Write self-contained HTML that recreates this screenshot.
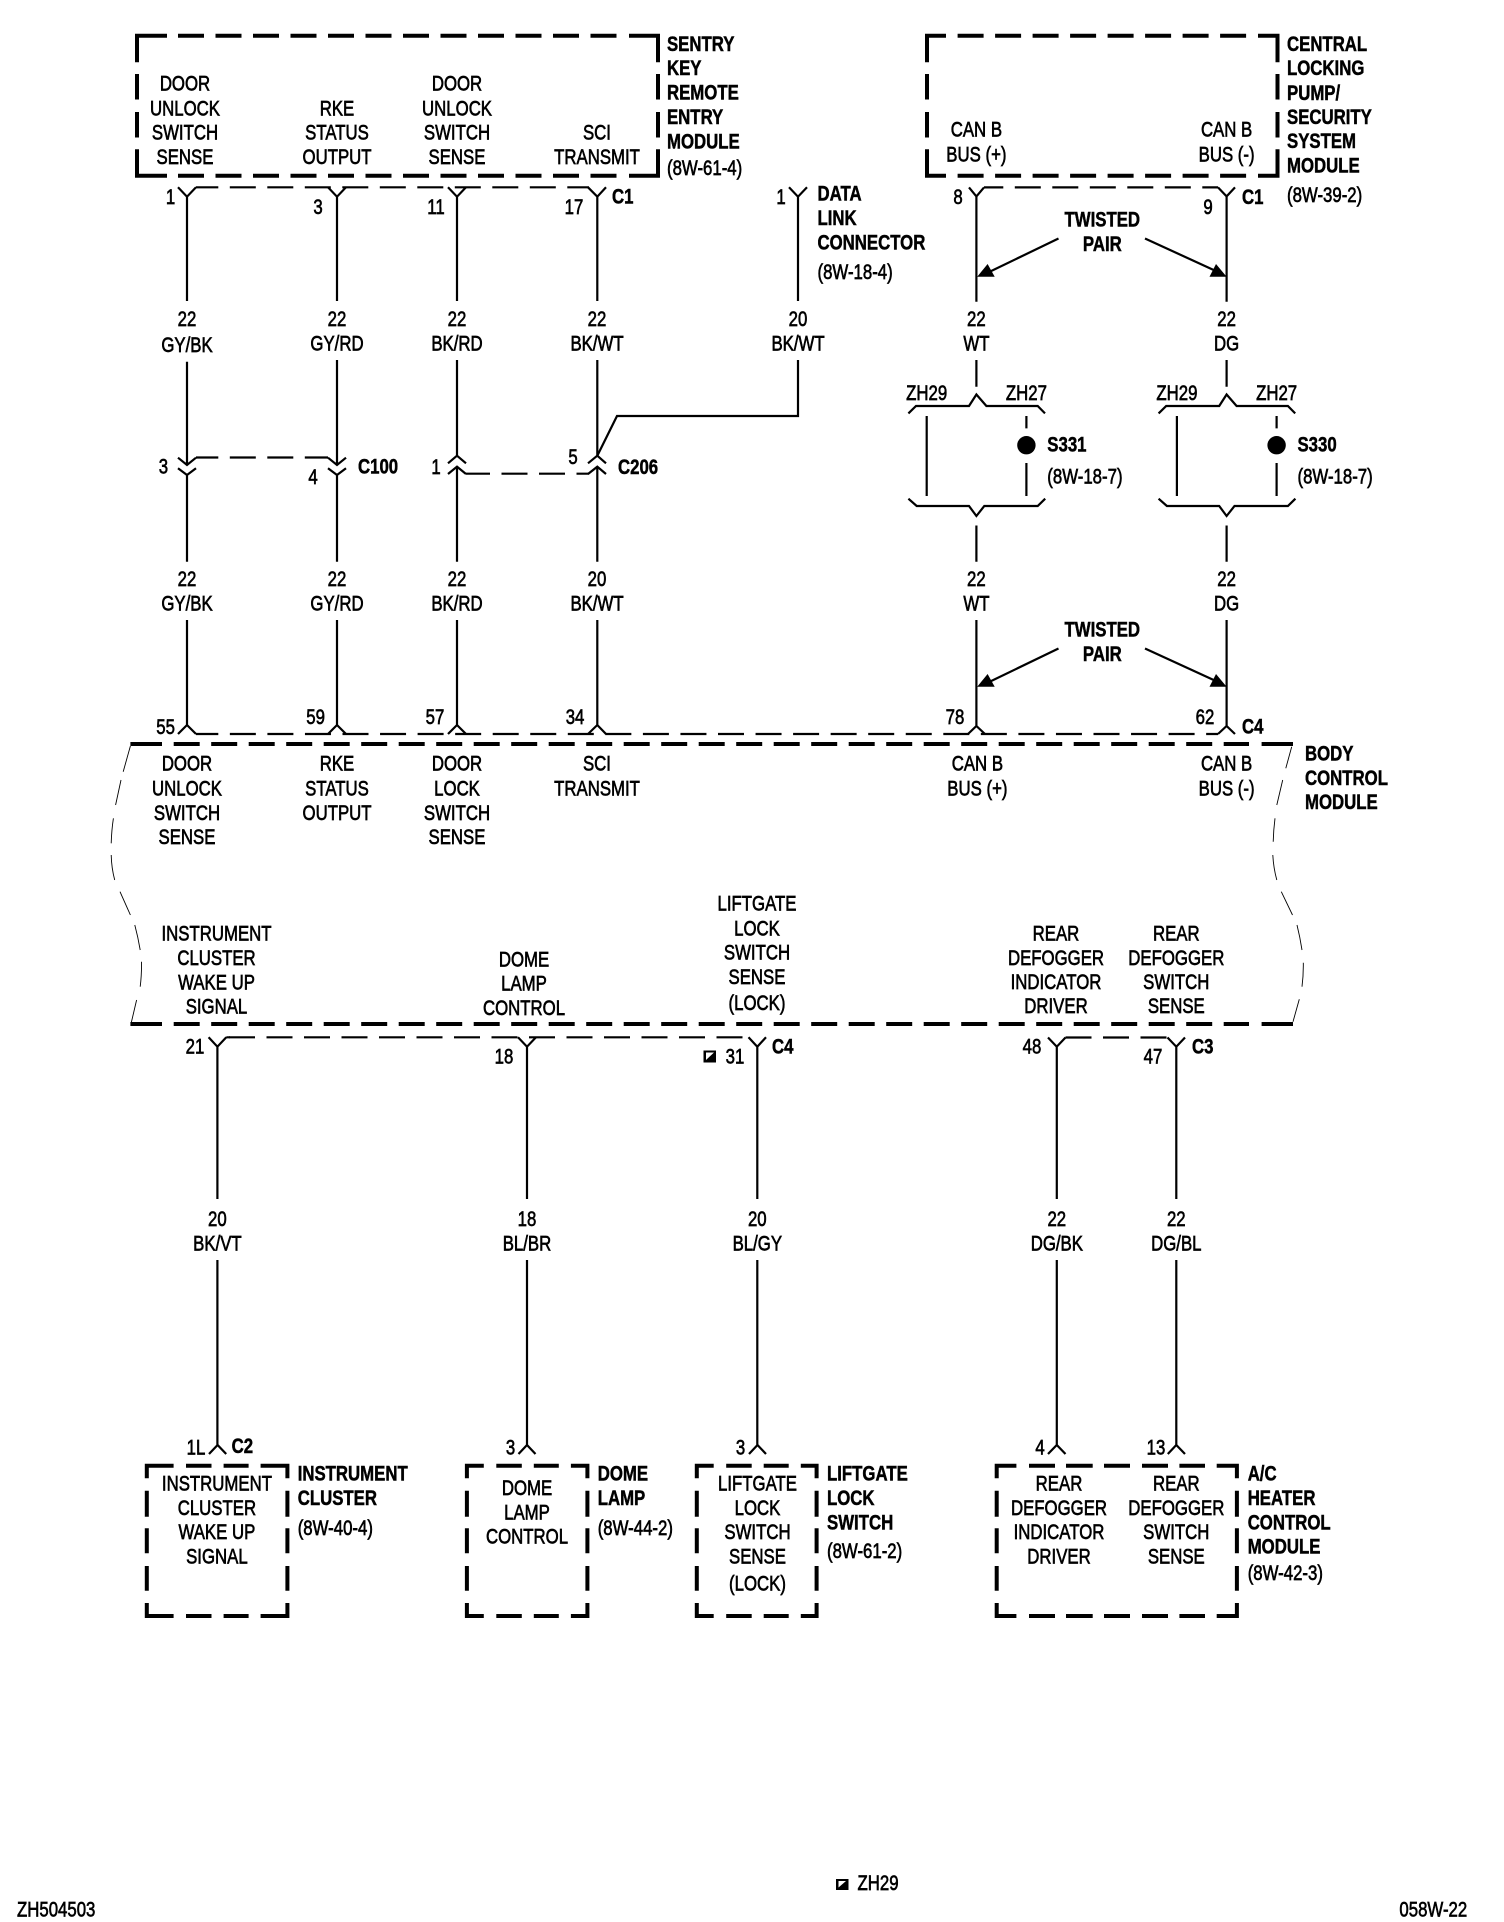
<!DOCTYPE html>
<html><head><meta charset="utf-8"><style>
html,body{margin:0;padding:0;background:#fff}
svg{display:block}
text{font-family:"Liberation Sans",Arial,sans-serif;font-size:21px;fill:#000;stroke:#000;stroke-width:.65px;transform-box:fill-box}
.c{text-anchor:middle;transform-origin:center;transform:scaleX(.8)}
.l{text-anchor:start;transform-origin:left center;transform:scaleX(.8)}
.lb{text-anchor:start;transform-origin:left center;transform:scaleX(.8);font-weight:bold;stroke-width:.5px}
.cb{text-anchor:middle;transform-origin:center;transform:scaleX(.8);font-weight:bold;stroke-width:.5px}
.w{fill:none;stroke:#000;stroke-width:2.2}
.t{fill:none;stroke:#000;stroke-width:.9}
.d{fill:none;stroke:#000;stroke-width:2.2;stroke-dasharray:26 11.5}
.b{fill:none;stroke:#000;stroke-width:4}
.bd{fill:none;stroke:#000;stroke-width:4;stroke-dasharray:26 11.5}
.bv{fill:none;stroke:#000;stroke-width:4;stroke-dasharray:25.5 12.5}
</style></head><body>
<svg width="1504" height="1922" viewBox="0 0 1504 1922" xmlns="http://www.w3.org/2000/svg">
<rect width="1504" height="1922" fill="#fff"/>

<!-- Top left module -->
<path class="b" d="M137 62.3V35.7H167M629 35.7H658V62.3M137 149.3V175.7H167M629 175.7H658V149.3"/>
<path class="bd" d="M178 35.7H617M178 175.7H617"/>
<path class="bv" d="M137 74V138M658 74V138"/>
<!-- Top right module -->
<path class="b" d="M927 62.3V35.7H946M1258 35.7H1277.5V62.3M927 149.3V175.7H946M1258 175.7H1277.5V149.3"/>
<path class="bd" d="M957.6 35.7H1247M957.6 175.7H1247"/>
<path class="bv" d="M927 74V138M1277.5 74V138"/>

<!-- Body control module -->
<path class="b" d="M130.4 744H162M1261.6 744H1293M130.4 1024H162M1261.6 1024H1293"/>
<path class="bd" d="M173.7 744H1249M173.7 1024H1249"/>
<path class="t" d="M130.4 746L123.2 771.7M121 780L115.6 805M113.4 818.3Q111.6 830 111.2 843.3M111.2 855Q111.5 868 114.7 880M120 891.7L130.4 915M134.8 925Q138 937 140.2 950M141.5 961.7Q141.7 975 140.2 986.7M136.6 1000L131.2 1023"/>
<path class="t" d="M1291.7 746.7L1285.8 768.3M1282.7 780L1276.8 805M1275 818.3Q1273.5 830 1273.2 841.7M1272.8 855Q1273.5 868 1276.8 880M1281.3 891.7L1292.5 915M1297 925Q1300 937 1302 950M1303.3 962.7Q1303.5 975 1302 986.7M1299.3 999.3L1293 1021.7"/>

<!-- Row C1 left -->
<path class="d" d="M196 187.3H589" style="stroke-dashoffset:3.7"/>
<path class="w" d="M178 187.3L187 196.7L196 187.3M187 196.7V301M187 361.7V465M178 457.7L187 465L196 457.7M178 468.3L187 475L196 468.3M187 475V561.7M187 620V725M178 734L187 725L196 734"/>
<path class="w" d="M328 187.3L337 196.7L346 187.3M337 196.7V301M337 360V465M328 457.7L337 465L346 457.7M328 468.3L337 475L346 468.3M337 475V561.7M337 620V725M328 734L337 725L346 734"/>
<path class="w" d="M448 187.3L457 196.7L466 187.3M457 196.7V301M457 360V455.7M448 463.3L457 455.7L466 463.3M448 474L457 466.7L466 474M457 466.7V561.7M457 620V725M448 734L457 725L466 734"/>
<path class="w" d="M588 187.3L597.3 196.7L606 187.3M597.3 196.7V301M597.3 360V455.7M588 463.3L597.3 455.7L606 463.3M588 474L597.3 466.7L606 474M597.3 466.7V561.7M597.3 620V725M588 734L597.3 725L606 734"/>
<path class="w" d="M597.3 455.7L617 416H798V360M798 301V196.7M789 187.3L798 196.7L807 187.3"/>
<!-- C100 / C206 dashes -->
<path class="d" style="stroke-dashoffset:3.7" d="M196 457.5H328"/>
<path class="d" d="M466 473.7H589" style="stroke-dashoffset:2"/>

<!-- Row C4 (upper) -->
<path class="d" style="stroke-dashoffset:3.7;stroke-dasharray:26 11.55" d="M196 734H1218"/>

<!-- Twisted pair right -->
<path class="d" style="stroke-dashoffset:6.7" d="M984 187.4H1218"/>
<path class="w" d="M969 187.4L976.4 196.4L984 187.4M976.4 196.4V301.7M976.4 360V386.7"/>
<path class="w" d="M1218 187.4L1226.6 196.4L1235 187.4M1226.6 196.4V301.7M1226.6 360V386.7"/>
<g>
<path class="w" d="M1058.5 238.5L985 274"/>
<path d="M977.2 276.7L994.7 276.7L987.6 264Z" fill="#000"/>
<path class="w" d="M1145 238.5L1218 272"/>
<path d="M1226.6 276.7L1209.5 276.7L1216 264Z" fill="#000"/>
</g>
<g transform="translate(0 410)">
<path class="w" d="M1058.5 238.5L985 274"/>
<path d="M977.2 276.7L994.7 276.7L987.6 264Z" fill="#000"/>
<path class="w" d="M1145 238.5L1218 272"/>
<path d="M1226.6 276.7L1209.5 276.7L1216 264Z" fill="#000"/>
</g>
<path class="w" d="M976.4 525.5V561.7M976.4 620V726M968 734L976.4 726L985 734"/>
<path class="w" d="M1226.6 525.5V561.7M1226.6 620V726M1218 734L1226.6 726L1235 734"/>

<!-- Splices -->
<g>
<path class="w" d="M908.4 413.4L916 406H969L976.4 394.5L986.4 406H1037.7L1045 413.4"/>
<path class="w" d="M926.7 416V496M1026.4 416V428.4M1026.4 463V496"/>
<circle cx="1026.4" cy="445.2" r="9.2" fill="#000"/>
<path class="w" d="M908.4 498.7L916.7 506H969L976.4 516L984.3 506H1037.7L1045.2 498.7"/>
</g>
<g transform="translate(250.2 0)">
<path class="w" d="M908.4 413.4L916 406H969L976.4 394.5L986.4 406H1037.7L1045 413.4"/>
<path class="w" d="M926.7 416V496M1026.4 416V428.4M1026.4 463V496"/>
<circle cx="1026.4" cy="445.2" r="9.2" fill="#000"/>
<path class="w" d="M908.4 498.7L916.7 506H969L976.4 516L984.3 506H1037.7L1045.2 498.7"/>
</g>

<!-- Lower wires -->
<path class="d" style="stroke-dashoffset:-2.7" d="M226.3 1037.3H749"/>
<path class="w" d="M226.3 1037.3H230M208.6 1037.3L217.4 1046.7L226.3 1037.3M217.4 1046.7V1199M217.4 1260V1445M209 1454L217.6 1445L226.2 1454"/>
<path class="w" d="M518 1037.3L527 1046.7L536 1037.3M527 1046.7V1199M527 1260V1445M518.5 1454L527 1445L535.5 1454"/>
<path class="w" d="M748.5 1037.3L757.3 1046.7L766 1037.3M757.3 1046.7V1199M757.3 1260V1445M749 1454L757.5 1445L766 1454"/>
<path class="d" d="M1065.5 1037.5H1167"/>
<path class="w" d="M1048 1037.5L1056.8 1046.7L1065.5 1037.5M1056.8 1046.7V1199M1056.8 1260V1445M1048 1454L1056.8 1445L1065.5 1454"/>
<path class="w" d="M1167.5 1037.5L1176.3 1046.7L1185 1037.5M1176.3 1046.7V1199M1176.3 1260V1445M1167.8 1454L1176.3 1445L1185 1454"/>

<!-- Bottom boxes -->
<path class="b" d="M146.8 1478.3V1465.7H173.6M186 1465.7H211.5M223.6 1465.7H248.6M260.6 1465.7H287.4V1478.3M146.8 1490.7V1516.7M146.8 1528.3V1553.3M146.8 1566V1590.7M287.4 1490.7V1516.7M287.4 1528.3V1553.3M287.4 1566V1590.7M146.8 1603V1616H173.6M186 1616H211.5M223.6 1616H248.6M260.6 1616H287.4V1603"/>
<path class="b" d="M466.9 1478.3V1465.7H483.8M496.3 1465.7H521.8M533.8 1465.7H558.8M570.9 1465.7H587.4V1478.3M466.9 1490.7V1516.7M466.9 1528.3V1553.3M466.9 1566V1590.7M587.4 1490.7V1516.7M587.4 1528.3V1553.3M587.4 1566V1590.7M466.9 1603V1616H483.8M496.3 1616H521.8M533.8 1616H558.8M570.9 1616H587.4V1603"/>
<path class="b" d="M696.8 1478.3V1465.7H713.7M726.2 1465.7H751.7M763.7 1465.7H788.7M800.8 1465.7H816.6V1478.3M696.8 1490.7V1516.7M696.8 1528.3V1553.3M696.8 1566V1590.7M816.6 1490.7V1516.7M816.6 1528.3V1553.3M816.6 1566V1590.7M696.8 1603V1616H713.7M726.2 1616H751.7M763.7 1616H788.7M800.8 1616H816.6V1603"/>
<path class="b" d="M996.7 1478.3V1465.7H1016.4M1029 1465.7H1055M1066 1465.7H1092.7M1104 1465.7H1130M1142 1465.7H1168M1179.4 1465.7H1205M1216.7 1465.7H1236.9V1478.3M996.7 1490.7V1516.7M996.7 1528.3V1553.3M996.7 1566V1590.7M1236.9 1490.7V1516.7M1236.9 1528.3V1553.3M1236.9 1566V1590.7M996.7 1603V1616H1016.4M1029 1616H1055M1066 1616H1092.7M1104 1616H1130M1142 1616H1168M1179.4 1616H1205M1216.7 1616H1236.9V1603"/>

<!-- Module text -->
<text class="c" x="185" y="90.7">DOOR</text><text class="c" x="185" y="115.3">UNLOCK</text><text class="c" x="185" y="139.3">SWITCH</text><text class="c" x="185" y="164">SENSE</text>
<text class="c" x="337" y="115.3">RKE</text><text class="c" x="337" y="139.3">STATUS</text><text class="c" x="337" y="164">OUTPUT</text>
<text class="c" x="457" y="90.7">DOOR</text><text class="c" x="457" y="115.3">UNLOCK</text><text class="c" x="457" y="139.3">SWITCH</text><text class="c" x="457" y="164">SENSE</text>
<text class="c" x="597" y="139.3">SCI</text><text class="c" x="597" y="164">TRANSMIT</text>
<text class="lb" x="667" y="51">SENTRY</text><text class="lb" x="667" y="75">KEY</text><text class="lb" x="667" y="99.3">REMOTE</text><text class="lb" x="667" y="124">ENTRY</text><text class="lb" x="667" y="148.3">MODULE</text><text class="l" x="667" y="175">(8W-61-4)</text>

<text class="c" x="976.4" y="136.5">CAN B</text><text class="c" x="976.4" y="161.4">BUS (+)</text>
<text class="c" x="1226.6" y="136.5">CAN B</text><text class="c" x="1226.6" y="161.4">BUS (-)</text>
<text class="lb" x="1287" y="51">CENTRAL</text><text class="lb" x="1287" y="75.2">LOCKING</text><text class="lb" x="1287" y="100">PUMP/</text><text class="lb" x="1287" y="124.2">SECURITY</text><text class="lb" x="1287" y="148">SYSTEM</text><text class="lb" x="1287" y="172.3">MODULE</text><text class="l" x="1287" y="202">(8W-39-2)</text>

<!-- Pins row C1 -->
<text class="c" x="170.5" y="204">1</text><text class="c" x="318" y="214">3</text><text class="c" x="436" y="214">11</text><text class="c" x="574" y="214">17</text><text class="lb" x="612" y="203.3">C1</text>
<text class="c" x="781" y="204">1</text>
<text class="lb" x="817.5" y="200.5">DATA</text><text class="lb" x="817.5" y="225.2">LINK</text><text class="lb" x="817.5" y="249.5">CONNECTOR</text><text class="l" x="817.5" y="279">(8W-18-4)</text>
<text class="c" x="958" y="204">8</text><text class="c" x="1208" y="214">9</text><text class="lb" x="1242" y="204">C1</text>
<text class="cb" x="1102.3" y="226.7">TWISTED</text><text class="cb" x="1102.3" y="251">PAIR</text>
<text class="cb" x="1102.3" y="636.7">TWISTED</text><text class="cb" x="1102.3" y="661">PAIR</text>

<!-- Wire labels upper -->
<text class="c" x="187" y="326">22</text><text class="c" x="187" y="352">GY/BK</text>
<text class="c" x="337" y="326">22</text><text class="c" x="337" y="350.7">GY/RD</text>
<text class="c" x="457" y="326">22</text><text class="c" x="457" y="350.7">BK/RD</text>
<text class="c" x="597" y="326">22</text><text class="c" x="597" y="350.7">BK/WT</text>
<text class="c" x="798" y="326">20</text><text class="c" x="798" y="350.7">BK/WT</text>
<text class="c" x="976.4" y="326">22</text><text class="c" x="976.4" y="350.7">WT</text>
<text class="c" x="1226.6" y="326">22</text><text class="c" x="1226.6" y="350.7">DG</text>

<!-- Connectors C100/C206 -->
<text class="c" x="163.4" y="473.3">3</text><text class="c" x="313" y="484">4</text><text class="lb" x="358" y="473.3">C100</text>
<text class="c" x="436" y="474">1</text><text class="c" x="573" y="464">5</text><text class="lb" x="618" y="474">C206</text>

<!-- Splice labels -->
<text class="c" x="926.7" y="400">ZH29</text><text class="c" x="1026.4" y="400">ZH27</text>
<text class="c" x="1176.9" y="400">ZH29</text><text class="c" x="1276.6" y="400">ZH27</text>
<text class="lb" x="1047.3" y="451.6">S331</text><text class="l" x="1047.3" y="483.7">(8W-18-7)</text>
<text class="lb" x="1297.5" y="451.6">S330</text><text class="l" x="1297.5" y="483.7">(8W-18-7)</text>

<!-- Wire labels middle -->
<text class="c" x="187" y="586">22</text><text class="c" x="187" y="610.7">GY/BK</text>
<text class="c" x="337" y="586">22</text><text class="c" x="337" y="610.7">GY/RD</text>
<text class="c" x="457" y="586">22</text><text class="c" x="457" y="610.7">BK/RD</text>
<text class="c" x="597" y="586">20</text><text class="c" x="597" y="610.7">BK/WT</text>
<text class="c" x="976.4" y="586">22</text><text class="c" x="976.4" y="610.7">WT</text>
<text class="c" x="1226.6" y="586">22</text><text class="c" x="1226.6" y="610.7">DG</text>

<!-- Pins C4 -->
<text class="c" x="165.6" y="734">55</text><text class="c" x="315.6" y="724">59</text><text class="c" x="435" y="724">57</text><text class="c" x="575" y="724">34</text><text class="c" x="955" y="724">78</text><text class="c" x="1205" y="724">62</text><text class="lb" x="1242" y="733.5">C4</text>

<!-- BCM text top -->
<text class="c" x="187" y="770.7">DOOR</text><text class="c" x="187" y="795.3">UNLOCK</text><text class="c" x="187" y="820">SWITCH</text><text class="c" x="187" y="844">SENSE</text>
<text class="c" x="337" y="770.7">RKE</text><text class="c" x="337" y="795.3">STATUS</text><text class="c" x="337" y="820">OUTPUT</text>
<text class="c" x="457" y="770.7">DOOR</text><text class="c" x="457" y="795.3">LOCK</text><text class="c" x="457" y="820">SWITCH</text><text class="c" x="457" y="844">SENSE</text>
<text class="c" x="597" y="770.7">SCI</text><text class="c" x="597" y="795.3">TRANSMIT</text>
<text class="c" x="977.4" y="770.7">CAN B</text><text class="c" x="977.4" y="795.3">BUS (+)</text>
<text class="c" x="1226.6" y="770.7">CAN B</text><text class="c" x="1226.6" y="795.3">BUS (-)</text>
<text class="lb" x="1305" y="760.5">BODY</text><text class="lb" x="1305" y="785">CONTROL</text><text class="lb" x="1305" y="809">MODULE</text>

<!-- BCM text bottom -->
<text class="c" x="216.5" y="940.7">INSTRUMENT</text><text class="c" x="216.5" y="965">CLUSTER</text><text class="c" x="216.5" y="989.3">WAKE UP</text><text class="c" x="216.5" y="1013.3">SIGNAL</text>
<text class="c" x="524" y="966.7">DOME</text><text class="c" x="524" y="990.7">LAMP</text><text class="c" x="524" y="1015">CONTROL</text>
<text class="c" x="757" y="910.7">LIFTGATE</text><text class="c" x="757" y="935.7">LOCK</text><text class="c" x="757" y="959.3">SWITCH</text><text class="c" x="757" y="984">SENSE</text><text class="c" x="757" y="1010">(LOCK)</text>
<text class="c" x="1056" y="940.7">REAR</text><text class="c" x="1056" y="965">DEFOGGER</text><text class="c" x="1056" y="989">INDICATOR</text><text class="c" x="1056" y="1013">DRIVER</text>
<text class="c" x="1176.3" y="940.7">REAR</text><text class="c" x="1176.3" y="965">DEFOGGER</text><text class="c" x="1176.3" y="989">SWITCH</text><text class="c" x="1176.3" y="1013">SENSE</text>

<!-- Lower pins -->
<text class="c" x="195" y="1053.3">21</text><text class="c" x="504" y="1063.3">18</text>
<path d="M703.5 1050.5H716V1062.5H703.5Z" fill="#000"/><path d="M706 1060L714 1052.5H706Z" fill="#fff"/>
<text class="c" x="735" y="1063.3">31</text><text class="lb" x="772" y="1053.3">C4</text>
<text class="c" x="1032" y="1053.3">48</text><text class="c" x="1153" y="1063.3">47</text><text class="lb" x="1192" y="1053.3">C3</text>

<!-- Lower wire labels -->
<text class="c" x="217.4" y="1226">20</text><text class="c" x="217.4" y="1250.5">BK/VT</text>
<text class="c" x="527" y="1226">18</text><text class="c" x="527" y="1250.5">BL/BR</text>
<text class="c" x="757.3" y="1226">20</text><text class="c" x="757.3" y="1250.5">BL/GY</text>
<text class="c" x="1056.8" y="1226">22</text><text class="c" x="1056.8" y="1250.5">DG/BK</text>
<text class="c" x="1176.3" y="1226">22</text><text class="c" x="1176.3" y="1250.5">DG/BL</text>

<text class="c" x="196" y="1454.3">1L</text><text class="lb" x="231.6" y="1453">C2</text>
<text class="c" x="510.6" y="1454.3">3</text><text class="c" x="740.5" y="1454.3">3</text><text class="c" x="1040" y="1454.3">4</text><text class="c" x="1156" y="1454.3">13</text>

<!-- Bottom box text -->
<text class="c" x="216.9" y="1490.7">INSTRUMENT</text><text class="c" x="216.9" y="1515">CLUSTER</text><text class="c" x="216.9" y="1539">WAKE UP</text><text class="c" x="216.9" y="1563.3">SIGNAL</text>
<text class="lb" x="297.7" y="1480.7">INSTRUMENT</text><text class="lb" x="297.7" y="1505">CLUSTER</text><text class="l" x="297.7" y="1535">(8W-40-4)</text>
<text class="c" x="527" y="1495">DOME</text><text class="c" x="527" y="1519.3">LAMP</text><text class="c" x="527" y="1543.3">CONTROL</text>
<text class="lb" x="597.7" y="1480.7">DOME</text><text class="lb" x="597.7" y="1505">LAMP</text><text class="l" x="597.7" y="1535">(8W-44-2)</text>
<text class="c" x="757.5" y="1490.7">LIFTGATE</text><text class="c" x="757.5" y="1515">LOCK</text><text class="c" x="757.5" y="1539">SWITCH</text><text class="c" x="757.5" y="1563.3">SENSE</text><text class="c" x="757.5" y="1590.7">(LOCK)</text>
<text class="lb" x="827" y="1480.7">LIFTGATE</text><text class="lb" x="827" y="1505">LOCK</text><text class="lb" x="827" y="1529.3">SWITCH</text><text class="l" x="827" y="1558">(8W-61-2)</text>
<text class="c" x="1059" y="1490.7">REAR</text><text class="c" x="1059" y="1515">DEFOGGER</text><text class="c" x="1059" y="1539">INDICATOR</text><text class="c" x="1059" y="1563.3">DRIVER</text>
<text class="c" x="1176.3" y="1490.7">REAR</text><text class="c" x="1176.3" y="1515">DEFOGGER</text><text class="c" x="1176.3" y="1539">SWITCH</text><text class="c" x="1176.3" y="1563.3">SENSE</text>
<text class="lb" x="1247.7" y="1480.7">A/C</text><text class="lb" x="1247.7" y="1505">HEATER</text><text class="lb" x="1247.7" y="1529.3">CONTROL</text><text class="lb" x="1247.7" y="1553.3">MODULE</text><text class="l" x="1247.7" y="1580">(8W-42-3)</text>

<!-- Footer -->
<path d="M836 1879H848.5V1890H836Z" fill="#000"/><path d="M838.5 1887.5L846 1881H838.5Z" fill="#fff"/>
<text class="l" x="857.5" y="1890">ZH29</text>
<text class="l" x="17" y="1916.7">ZH504503</text>
<text class="l" x="1399.4" y="1916.7">058W-22</text>
</svg>
</body></html>
